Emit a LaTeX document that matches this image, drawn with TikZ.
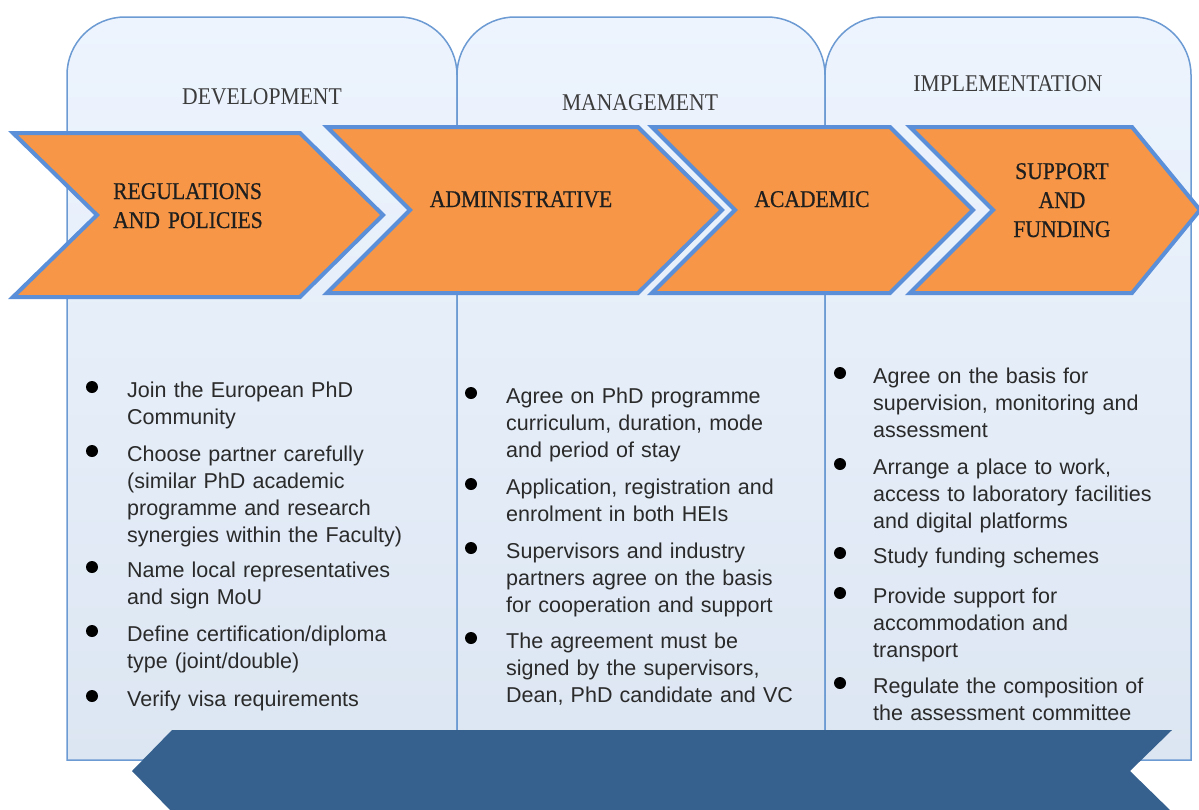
\documentclass[tikz,border=0pt]{standalone}
\usepackage{fontspec}
\setmainfont{Liberation Serif}
\newfontfamily\capfont[FakeStretch=0.9]{Liberation Serif}
\newfontfamily\chevfont[FakeStretch=0.9,FakeBold=0.6]{Liberation Serif}
\newfontfamily\bulfam{Liberation Sans}
\definecolor{ptop}{HTML}{EDF4FE}
\definecolor{pbot}{HTML}{DCE6F2}
\definecolor{pborder}{HTML}{6C9AD2}
\definecolor{orng}{HTML}{F79646}
\definecolor{chevb}{HTML}{5B8FD8}
\definecolor{navy}{HTML}{36618F}
\definecolor{txt}{HTML}{2A2A2A}
\definecolor{ttl}{HTML}{3C3C3C}
\tikzset{
  panel/.style={draw=pborder, line width=1.5pt, top color=ptop, bottom color=pbot},
  chev/.style={fill=orng, draw=chevb, line width=4pt, line join=miter},
  chevlabel/.style={inner sep=0pt, font={\chevfont\fontsize{24}{29}\selectfont}, text=black!88},
  titlelabel/.style={inner sep=0pt, anchor=base, font={\capfont\fontsize{24}{29}\selectfont}, text=ttl},
  bultext/.style={inner sep=0pt, anchor=base west, text width=#1, align=left,
    font={\bulfam\fontsize{21.5}{27}\selectfont}, text=txt},
  dot/.style={fill=black}
}
\def\panelpath#1#2{(#1,760) -- (#1,75) arc[start angle=180,end angle=270,radius=58] -- ({#2-58},17) arc[start angle=270,end angle=360,radius=58] -- (#2,760) -- cycle}
\begin{document}
\begin{tikzpicture}[x=1pt,y=-1pt]
\useasboundingbox (0,0) rectangle (1199,809);
% panels
\path[panel] \panelpath{67}{457};
\path[panel] \panelpath{457}{825};
\path[panel] \panelpath{825}{1191};
% titles
\node[titlelabel] (tdev) at (262,104) {DEVELOPMENT};
\node[titlelabel] (tman) at (640,110) {MANAGEMENT};
\node[titlelabel] (timp) at (1008,91) {IMPLEMENTATION};
% chevrons
\path[chev] (13,133) -- (300,133) -- (383,215) -- (300,297) -- (13,297) -- (97,215) -- cycle;
\path[chev] (327,127) -- (638,127) -- (722,210) -- (638,293) -- (327,293) -- (410,210) -- cycle;
\path[chev] (652,127) -- (890,127) -- (973,210) -- (890,293) -- (652,293) -- (735,210) -- cycle;
\path[chev] (910,127) -- (1132,127) -- (1200,210) -- (1132,293) -- (910,293) -- (993,210) -- cycle;
\node[chevlabel, anchor=base west, text width=200pt, align=left] (creg) at (113,199) {REGULATIONS\\AND POLICIES};
\node[chevlabel, anchor=base] (cadm) at (521,207) {ADMINISTRATIVE};
\node[chevlabel, anchor=base] (caca) at (812,207) {ACADEMIC};
\node[chevlabel, anchor=base, text width=160pt, align=center] (csup) at (1062,179) {SUPPORT\\AND\\FUNDING};
% bottom arrow
\path[fill=navy] (172,730) -- (1172,730) -- (1130,771) -- (1172,812) -- (172,812) -- (132,771) -- cycle;
% column 1
\foreach \y in {397,461,577,641,706} \fill[dot] (92,\y-10) circle[radius=6];
\node[bultext=320pt] (a1) at (127,397) {Join the European PhD\\Community};
\node[bultext=320pt] (a2) at (127,461) {Choose partner carefully\\(similar PhD academic\\programme and research\\synergies within the Faculty)};
\node[bultext=320pt] (a3) at (127,577) {Name local representatives\\and sign MoU};
\node[bultext=320pt] (a4) at (127,641) {Define certification/diploma\\type (joint/double)};
\node[bultext=320pt] (a5) at (127,706) {Verify visa requirements};
% column 2
\foreach \y in {403,494,558,648} \fill[dot] (471,\y-10) circle[radius=6];
\node[bultext=310pt] (b1) at (506,403) {Agree on PhD programme\\curriculum, duration, mode\\and period of stay};
\node[bultext=310pt] (b2) at (506,494) {Application, registration and\\enrolment in both HEIs};
\node[bultext=310pt] (b3) at (506,558) {Supervisors and industry\\partners agree on the basis\\for cooperation and support};
\node[bultext=310pt] (b4) at (506,648) {The agreement must be\\signed by the supervisors,\\Dean, PhD candidate and VC};
% column 3
\foreach \y in {383,474,563,603,693} \fill[dot] (840,\y-10) circle[radius=6];
\node[bultext=310pt] (c1) at (873,383) {Agree on the basis for\\supervision, monitoring and\\assessment};
\node[bultext=310pt] (c2) at (873,474) {Arrange a place to work,\\access to laboratory facilities\\and digital platforms};
\node[bultext=310pt] (c3) at (873,563) {Study funding schemes};
\node[bultext=310pt] (c4) at (873,603) {Provide support for\\accommodation and\\transport};
\node[bultext=310pt] (c5) at (873,693) {Regulate the composition of\\the assessment committee};
\end{tikzpicture}
\end{document}
